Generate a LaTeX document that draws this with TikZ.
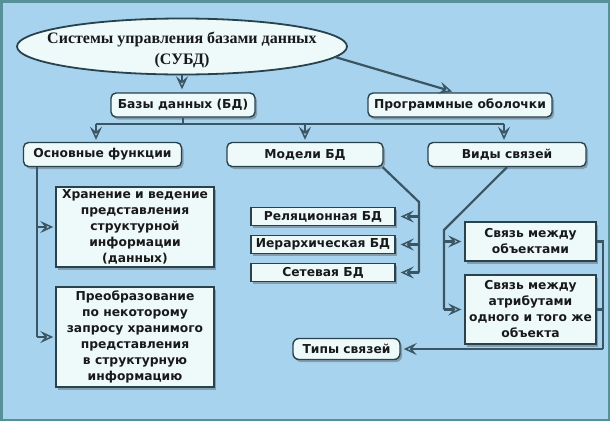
\documentclass[tikz,border=0pt]{standalone}
\usepackage{fontspec}
\setmainfont{DejaVu Sans}
\newfontfamily\ellfont{Liberation Serif}
\usetikzlibrary{arrows.meta,shapes.geometric,shadows}
\definecolor{bg}{RGB}{168,211,238}
\definecolor{framec}{RGB}{85,145,150}
\definecolor{boxfill}{RGB}{238,250,250}
\definecolor{edgec}{RGB}{40,66,78}
\definecolor{linec}{RGB}{58,86,100}
\definecolor{txt}{RGB}{25,25,25}
\begin{document}
\begin{tikzpicture}[x=1pt,y=-1pt,
  font=\fontsize{12.3}{16}\selectfont\bfseries,
  box/.style={draw=edgec, line width=1.4pt, fill=boxfill, inner sep=0pt, align=center, text=txt,
    drop shadow={shadow xshift=2pt,shadow yshift=-2.5pt,opacity=0.4,fill=black!70}},
  rbox/.style={box, rounded corners=5pt},
  conn/.style={draw=linec, line width=2.2pt},
  arr/.style={conn, -{Stealth[open,length=13pt,width=12pt,inset=5pt,line width=1.5pt]}},
]
\fill[bg] (0,0) rectangle (610,421);
\draw[framec, line width=2.5pt] (1.25,1.25) rectangle (608.75,419.75);
\useasboundingbox (0,0) rectangle (610,421);

\node[ellipse, draw=edgec, line width=1.8pt, fill=boxfill, minimum width=330pt, minimum height=56pt,
  inner sep=0pt] (ell) at (182,46.5) {};
\node[align=center, text=txt, inner sep=0pt, font=\ellfont\fontsize{16}{21}\selectfont\bfseries]
  (ellt) at (182,50) {Системы управления базами данных\\(СУБД)};

\node[rbox, minimum width=144pt, minimum height=24pt] (bd) at (183,105) {Базы данных (БД)};
\node[rbox, minimum width=184pt, minimum height=24pt] (po) at (460,105) {Программные оболочки};

\node[rbox, minimum width=158pt, minimum height=24pt] (of) at (102.5,154.5) {Основные функции};
\node[rbox, minimum width=156pt, minimum height=24pt] (mbd) at (305,154.5) {Модели БД};
\node[rbox, minimum width=158pt, minimum height=24pt] (vs) at (507,154.5) {Виды связей};

\node[box, minimum width=158pt, minimum height=80pt] (hr) at (135,227)
  {Хранение и ведение\\представления\\структурной\\информации\\(данных)};
\node[box, minimum width=158pt, minimum height=100pt] (pr) at (135,337)
  {Преобразование\\по некоторому\\запросу хранимого\\представления\\в структурную\\информацию};

\node[box, minimum width=144pt, minimum height=18pt] (rel) at (323,216.5) {Реляционная БД};
\node[box, minimum width=144pt, minimum height=18pt] (ier) at (323,244.5) {Иерархическая БД};
\node[box, minimum width=144pt, minimum height=18pt] (net) at (323,272.5) {Сетевая БД};

\node[box, minimum width=131pt, minimum height=39pt] (so) at (530.5,241.5) {Связь между\\объектами};
\node[box, minimum width=131pt, minimum height=69pt] (sa) at (530.5,309.5) {Связь между\\атрибутами\\одного и того же\\объекта};

\node[rbox, rounded corners=6pt, minimum width=107pt, minimum height=21pt] (ts) at (346.5,349) {Типы связей};

% top connectors
\draw[arr, shorten >=3pt] (ell.south) -- (ell.south |- bd.north);
\draw[arr, shorten >=3pt] (ell.-4) -- ([xshift=-5pt]po.north);

\coordinate (busL) at (96,124);
\coordinate (busR) at (504,124);
\draw[conn] (bd.south) -- (bd.south |- busL);
\draw[conn] (busL) -- (busR);
\draw[arr, shorten >=2pt] (busL) -- (busL |- of.north);
\draw[arr, shorten >=2pt] (mbd.north |- busL) -- (mbd.north);
\draw[arr, shorten >=2pt] (busR) -- (busR |- vs.north);

% left branch
\coordinate (lf) at (37,337);
\draw[conn] (of.south -| lf) -- (lf);
\draw[arr, shorten >=2pt] (lf |- hr.west) -- (hr.west);
\draw[arr, shorten >=2pt] (lf) -- (lf -| pr.west);

% models branch
\coordinate (m1) at (419,202);
\coordinate (m2) at (419,272.5);
\draw[conn] ([xshift=-1pt]mbd.south east) -- (m1) -- (m2);
\draw[arr, shorten >=5pt] (m1 |- rel.east) -- (rel.east);
\draw[arr, shorten >=5pt] (m1 |- ier.east) -- (ier.east);
\draw[arr, shorten >=5pt] (m2) -- (net.east);

% links branch
\coordinate (v1) at (444,230);
\draw[conn] (vs.south) -- (v1) -- (v1 |- sa.west);
\draw[arr, shorten >=3pt] (v1 |- so.west) -- (so.west);
\draw[arr, shorten >=3pt] (v1 |- sa.west) -- (sa.west);

% right collector
\coordinate (r1) at (603,349);
\draw[conn] (so.east) -- (so.east -| r1) -- (r1);
\draw[conn] (sa.east) -- (sa.east -| r1);
\draw[arr, shorten >=3pt] (r1) -- (ts.east);
\end{tikzpicture}
\end{document}
